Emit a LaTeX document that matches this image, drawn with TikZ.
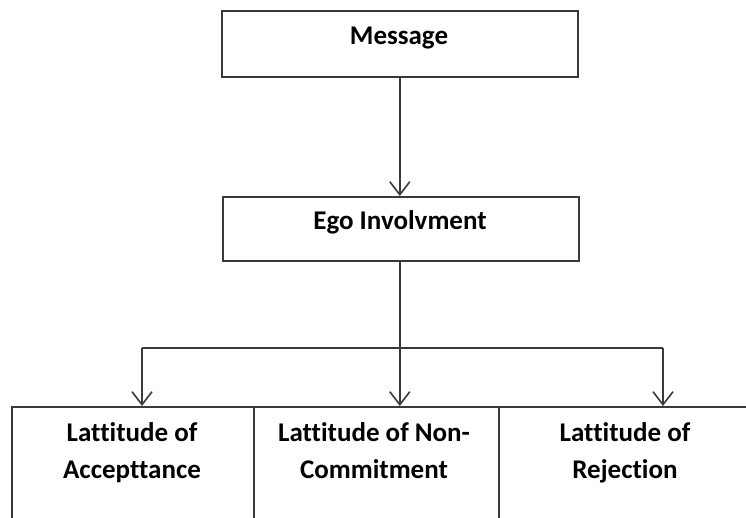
\documentclass[tikz,border=0pt]{standalone}
\usepackage{fontspec}
\setmainfont{Carlito}[Ligatures=NoCommon]
\usetikzlibrary{arrows.meta}
\definecolor{linec}{HTML}{3A3A3A}
\begin{document}
\begin{tikzpicture}[x=1pt,y=-1pt,
  box/.style={draw=linec, line width=1.6pt, inner sep=0pt, anchor=north west},
  txt/.style={font=\fontsize{27}{37}\selectfont\bfseries, text=black, align=center, inner sep=0pt, anchor=base},
  conn/.style={draw=linec, line width=1.6pt},
  arr/.style={conn, -{Straight Barb[length=13pt,width=20pt,line width=1.6pt]}}]
\useasboundingbox (0,0) rectangle (746,517);
\clip (0,0) rectangle (746,517);
\node[box, minimum width=356pt, minimum height=66pt] (msg) at (221,10) {};
\node[box, minimum width=356pt, minimum height=64pt] (ego) at (222,196) {};
\node[box, minimum width=242pt, minimum height=150pt] (acc) at (11,406) {};
\node[box, minimum width=245pt, minimum height=150pt] (non) at (253,406) {};
\node[box, minimum width=254pt, minimum height=150pt] (rej) at (498,406) {};
\node[txt] (msgt) at (399,44) {Message};
\node[txt] (egot) at (400,229) {Ego Involvment};
\node[txt] (acct) at (132,478) {Lattitude of\\Accepttance};
\node[txt] (nont) at (374,478) {Lattitude of Non-\\Commitment};
\node[txt] (rejt) at (625,478) {Lattitude of\\Rejection};
\coordinate (hl) at (142,348);
\coordinate (hr) at (663,348);
\draw[arr] (msg.south) -- (msg.south |- ego.north);
\draw[arr] (msg.south |- ego.south) -- (msg.south |- non.north);
\draw[conn] (hl) -- (hr);
\draw[arr] (hl) -- (hl |- acc.north);
\draw[arr] (hr) -- (hr |- rej.north);
\end{tikzpicture}
\end{document}
